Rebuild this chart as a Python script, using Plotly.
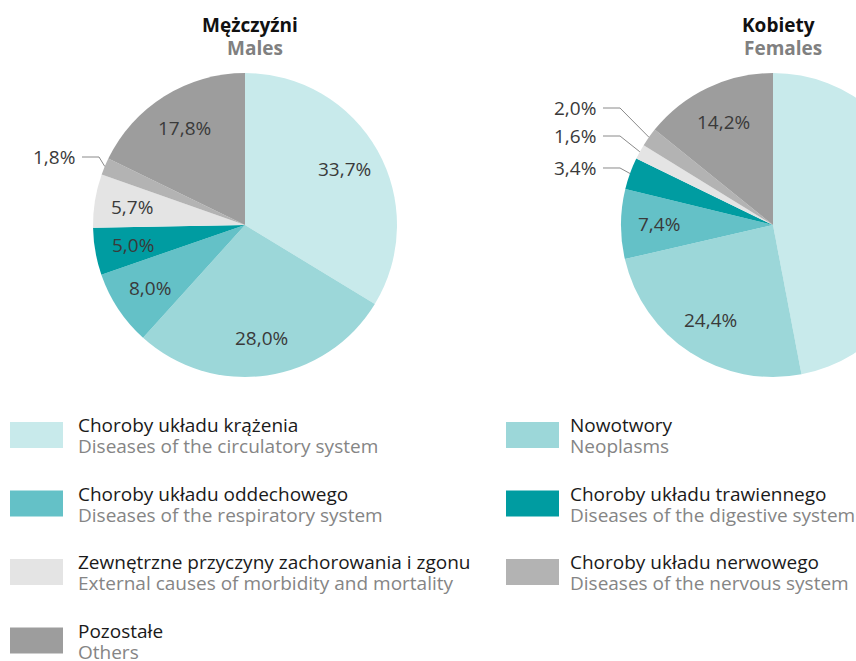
import math
import plotly.graph_objects as go

# ---- data ----
categories_pl = ["Choroby układu krążenia", "Nowotwory", "Choroby układu oddechowego",
                 "Choroby układu trawiennego", "Zewnętrzne przyczyny zachorowania i zgonu",
                 "Choroby układu nerwowego", "Pozostałe"]
categories_en = ["Diseases of the circulatory system", "Neoplasms", "Diseases of the respiratory system",
                 "Diseases of the digestive system", "External causes of morbidity and mortality",
                 "Diseases of the nervous system", "Others"]
males = [33.7, 28.0, 8.0, 5.0, 5.7, 1.8, 17.8]
females = [47.0, 24.4, 7.4, 3.4, 1.6, 2.0, 14.2]
colors = ["#c8eaeb", "#9cd7d9", "#64c1c7", "#009ca1", "#e4e4e4", "#b3b3b3", "#9d9d9d"]
titles_pl = ["Mężczyźni", "Kobiety"]
titles_en = ["Males", "Females"]

# ---- layout constants (pixels) ----
W, H = 930, 661
R = 152
CY = 225
centers = [245, 773]
# outside labels: slice index -> (text right edge x, text y)
outside = [{5: (77, 157)}, {3: (598, 168), 4: (598, 136), 5: (598, 108)}]
LABEL_R = 0.75

def px(x):
    return x / W

def py(y):
    return 1 - y / H

def dom(cx):
    return dict(x=[px(cx - R), px(cx + R)], y=[py(CY + R), py(CY - R)])

def fmt(v):
    return ("%.1f%%" % v).replace(".", ",")

fig = go.Figure()
ann = []
shapes = []
lab_font = dict(family="Open Sans", size=19, color="#3a3a3a")

for k, (vals, cx) in enumerate(zip([males, females], centers)):
    fig.add_trace(go.Pie(
        labels=categories_pl, values=vals, sort=False, direction="clockwise", rotation=0,
        marker=dict(colors=colors, line=dict(width=0)), textinfo="none",
        domain=dom(cx), showlegend=False, hoverinfo="label+percent", name=titles_en[k]))
    total = sum(vals)
    cum = 0.0
    for i, v in enumerate(vals):
        mid = (cum + v / 2) / total * 2 * math.pi
        cum += v
        sx, sy = math.sin(mid), -math.cos(mid)
        if i in outside[k]:
            tx, ty = outside[k][i]
            ex, ey = cx + sx * R, CY + sy * R
            shapes.append(dict(type="path", xref="paper", yref="paper",
                               path="M %f,%f L %f,%f L %f,%f" % (px(tx + 5), py(ty), px(tx + 22), py(ty), px(ex), py(ey)),
                               line=dict(color="#8a8a8a", width=1)))
            ann.append(dict(x=px(tx), y=py(ty), xref="paper", yref="paper", showarrow=False,
                            xanchor="right", yanchor="middle", text=fmt(v), font=lab_font))
        else:
            ann.append(dict(x=px(cx + sx * R * LABEL_R), y=py(CY + sy * R * LABEL_R),
                            xref="paper", yref="paper", showarrow=False,
                            xanchor="center", yanchor="middle", text=fmt(v), font=lab_font))

for cx, pl, en in zip(centers, titles_pl, titles_en):
    ann.append(dict(x=px(cx + 5), y=py(25), xref="paper", yref="paper", showarrow=False,
                    xanchor="center", yanchor="middle", text="<b>%s</b>" % pl,
                    font=dict(family="Open Sans", size=19, color="#111111")))
    ann.append(dict(x=px(cx + 10), y=py(48), xref="paper", yref="paper", showarrow=False,
                    xanchor="center", yanchor="middle", text="<b>%s</b>" % en,
                    font=dict(family="Open Sans", size=19, color="#808080")))

col_x = [10, 506]
text_x = [76, 568]
for i, (pl, en, c) in enumerate(zip(categories_pl, categories_en, colors)):
    col, row = i % 2, i // 2
    top = 422 + row * 68.5
    x0 = col_x[col]
    shapes.append(dict(type="rect", xref="paper", yref="paper", x0=px(x0), x1=px(x0 + 53),
                       y0=py(top + 26), y1=py(top), fillcolor=c, line=dict(width=0)))
    ann.append(dict(x=px(text_x[col]), y=py(top + 3), xref="paper", yref="paper", showarrow=False,
                    xanchor="left", yanchor="middle", text=pl,
                    font=dict(family="Open Sans", size=19, color="#1a1a1a")))
    ann.append(dict(x=px(text_x[col]), y=py(top + 24), xref="paper", yref="paper", showarrow=False,
                    xanchor="left", yanchor="middle", text=en,
                    font=dict(family="Open Sans", size=19, color="#858585")))

fig.update_layout(width=W, height=H, autosize=False, margin=dict(l=0, r=0, t=0, b=0),
                  paper_bgcolor="white", plot_bgcolor="white",
                  annotations=ann, shapes=shapes)

fig.write_html("out.html", post_script="document.body.style.margin='0';document.body.style.overflow='hidden';document.documentElement.style.overflow='hidden';")
